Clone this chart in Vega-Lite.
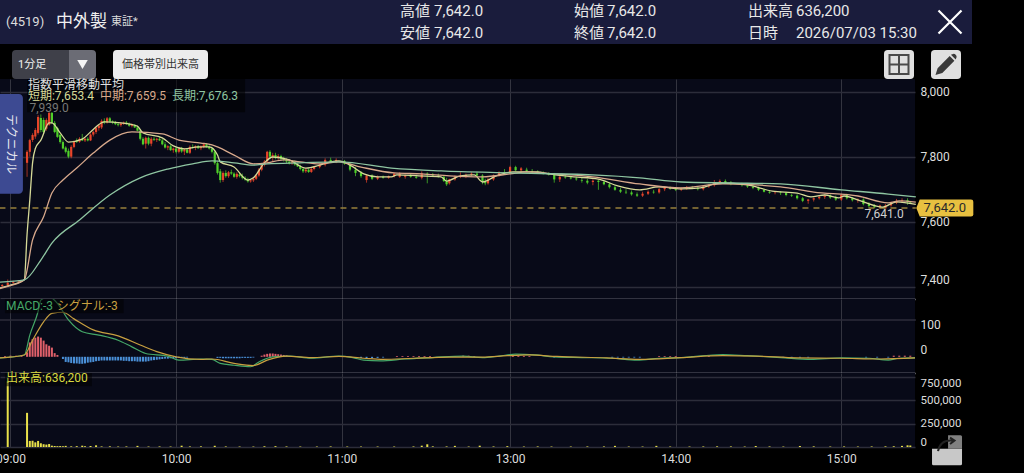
{
  "$schema": "https://vega.github.io/schema/vega-lite/v6.json",
  "description": "Intraday 1-minute chart of 4519 with EMA, MACD and volume panels",
  "padding": {"left": -5, "top": 0, "right": 5, "bottom": 8},
  "background": "#000000",
  "spacing": 0,
  "bounds": "flush",
  "resolve": {"scale": {"color": "independent"}},
  "datasets": {
    "banner": [
      {"col": 1, "row": 1.5, "kind": "code", "text": "(4519)"},
      {"col": 2, "row": 1.5, "kind": "name", "text": "中外製"},
      {"col": 3, "row": 1.5, "kind": "market", "text": "東証*"},
      {"col": 4, "row": 1, "kind": "field", "text": "高値"},
      {"col": 5, "row": 1, "kind": "field", "text": "7,642.0"},
      {"col": 4, "row": 2, "kind": "field", "text": "安値"},
      {"col": 5, "row": 2, "kind": "field", "text": "7,642.0"},
      {"col": 6, "row": 1, "kind": "field", "text": "始値"},
      {"col": 7, "row": 1, "kind": "field", "text": "7,642.0"},
      {"col": 6, "row": 2, "kind": "field", "text": "終値"},
      {"col": 7, "row": 2, "kind": "field", "text": "7,642.0"},
      {"col": 8, "row": 1, "kind": "field", "text": "出来高"},
      {"col": 9, "row": 1, "kind": "field", "text": "636,200"},
      {"col": 8, "row": 2, "kind": "field", "text": "日時"},
      {"col": 9, "row": 2, "kind": "field", "text": "2026/07/03 15:30"},
      {"col": 10, "row": 1.5, "kind": "close", "text": ""}
    ],
    "toolbar": [
      {"col": 1, "item": "label", "text": "1分足"},
      {"col": 2, "item": "left", "text": ""},
      {"col": 3, "item": "right", "text": ""},
      {"col": 4, "item": "wide", "text": "価格帯別出来高"},
      {"col": 5, "item": "grid", "text": ""},
      {"col": 6, "item": "pencil", "text": ""}
    ],
    "candles": [
      {"bar": -3, "o": 7402, "h": 7408, "l": 7398, "c": 7405},
      {"bar": -1, "o": 7405, "h": 7422, "l": 7402, "c": 7412},
      {"bar": 1, "o": 7412, "h": 7418, "l": 7408, "c": 7415},
      {"bar": 3, "o": 7415, "h": 7420, "l": 7411, "c": 7418},
      {"bar": 6, "o": 7781, "h": 7820, "l": 7738, "c": 7815},
      {"bar": 7, "o": 7815, "h": 7855, "l": 7800, "c": 7851},
      {"bar": 8, "o": 7851, "h": 7872, "l": 7845, "c": 7867},
      {"bar": 9, "o": 7862, "h": 7888, "l": 7855, "c": 7882},
      {"bar": 10, "o": 7873, "h": 7928, "l": 7868, "c": 7922},
      {"bar": 11, "o": 7919, "h": 7930, "l": 7875, "c": 7882},
      {"bar": 12, "o": 7913, "h": 7920, "l": 7870, "c": 7876},
      {"bar": 13, "o": 7886, "h": 7918, "l": 7880, "c": 7913},
      {"bar": 14, "o": 7898, "h": 7939, "l": 7895, "c": 7935},
      {"bar": 15, "o": 7935, "h": 7938, "l": 7900, "c": 7904},
      {"bar": 16, "o": 7904, "h": 7910, "l": 7872, "c": 7876},
      {"bar": 17, "o": 7888, "h": 7892, "l": 7858, "c": 7861},
      {"bar": 18, "o": 7867, "h": 7870, "l": 7840, "c": 7845},
      {"bar": 19, "o": 7845, "h": 7850, "l": 7822, "c": 7825},
      {"bar": 20, "o": 7828, "h": 7832, "l": 7810, "c": 7815},
      {"bar": 21, "o": 7818, "h": 7825, "l": 7795, "c": 7800},
      {"bar": 22, "o": 7800, "h": 7835, "l": 7795, "c": 7830},
      {"bar": 23, "o": 7830, "h": 7850, "l": 7826, "c": 7845},
      {"bar": 24, "o": 7850, "h": 7856, "l": 7842, "c": 7846},
      {"bar": 25, "o": 7846, "h": 7860, "l": 7843, "c": 7855},
      {"bar": 26, "o": 7855, "h": 7870, "l": 7848, "c": 7850},
      {"bar": 27, "o": 7850, "h": 7858, "l": 7845, "c": 7855},
      {"bar": 28, "o": 7855, "h": 7860, "l": 7847, "c": 7850},
      {"bar": 29, "o": 7850, "h": 7872, "l": 7848, "c": 7868},
      {"bar": 30, "o": 7868, "h": 7880, "l": 7862, "c": 7876},
      {"bar": 31, "o": 7876, "h": 7892, "l": 7870, "c": 7888},
      {"bar": 32, "o": 7888, "h": 7900, "l": 7880, "c": 7896},
      {"bar": 33, "o": 7890, "h": 7915, "l": 7885, "c": 7910},
      {"bar": 34, "o": 7910, "h": 7918, "l": 7900, "c": 7905},
      {"bar": 35, "o": 7905, "h": 7922, "l": 7902, "c": 7918},
      {"bar": 36, "o": 7918, "h": 7922, "l": 7905, "c": 7908},
      {"bar": 37, "o": 7908, "h": 7912, "l": 7900, "c": 7905},
      {"bar": 38, "o": 7905, "h": 7910, "l": 7897, "c": 7900},
      {"bar": 39, "o": 7900, "h": 7905, "l": 7893, "c": 7897},
      {"bar": 40, "o": 7897, "h": 7905, "l": 7892, "c": 7902},
      {"bar": 41, "o": 7902, "h": 7908, "l": 7898, "c": 7905},
      {"bar": 42, "o": 7905, "h": 7910, "l": 7898, "c": 7900},
      {"bar": 43, "o": 7900, "h": 7905, "l": 7892, "c": 7895},
      {"bar": 44, "o": 7895, "h": 7902, "l": 7890, "c": 7898},
      {"bar": 45, "o": 7898, "h": 7900, "l": 7888, "c": 7890},
      {"bar": 46, "o": 7890, "h": 7895, "l": 7878, "c": 7880},
      {"bar": 47, "o": 7880, "h": 7884, "l": 7850, "c": 7855},
      {"bar": 48, "o": 7855, "h": 7860, "l": 7835, "c": 7838},
      {"bar": 49, "o": 7840, "h": 7862, "l": 7825, "c": 7858},
      {"bar": 50, "o": 7858, "h": 7862, "l": 7835, "c": 7840},
      {"bar": 51, "o": 7840, "h": 7860, "l": 7832, "c": 7855},
      {"bar": 52, "o": 7855, "h": 7860, "l": 7848, "c": 7852},
      {"bar": 53, "o": 7852, "h": 7858, "l": 7845, "c": 7855},
      {"bar": 54, "o": 7855, "h": 7860, "l": 7848, "c": 7850},
      {"bar": 55, "o": 7850, "h": 7855, "l": 7835, "c": 7838},
      {"bar": 56, "o": 7838, "h": 7845, "l": 7825, "c": 7828},
      {"bar": 57, "o": 7828, "h": 7835, "l": 7820, "c": 7832},
      {"bar": 58, "o": 7832, "h": 7836, "l": 7818, "c": 7820},
      {"bar": 59, "o": 7820, "h": 7828, "l": 7812, "c": 7825},
      {"bar": 60, "o": 7825, "h": 7830, "l": 7810, "c": 7815},
      {"bar": 61, "o": 7815, "h": 7830, "l": 7810, "c": 7825},
      {"bar": 62, "o": 7825, "h": 7830, "l": 7812, "c": 7816},
      {"bar": 63, "o": 7816, "h": 7826, "l": 7805, "c": 7822},
      {"bar": 64, "o": 7822, "h": 7826, "l": 7810, "c": 7812},
      {"bar": 65, "o": 7812, "h": 7835, "l": 7808, "c": 7830},
      {"bar": 66, "o": 7830, "h": 7838, "l": 7825, "c": 7828},
      {"bar": 67, "o": 7828, "h": 7835, "l": 7820, "c": 7832},
      {"bar": 68, "o": 7832, "h": 7836, "l": 7824, "c": 7826},
      {"bar": 69, "o": 7826, "h": 7835, "l": 7820, "c": 7830},
      {"bar": 70, "o": 7830, "h": 7842, "l": 7826, "c": 7838},
      {"bar": 71, "o": 7838, "h": 7842, "l": 7828, "c": 7830},
      {"bar": 72, "o": 7830, "h": 7835, "l": 7822, "c": 7825},
      {"bar": 73, "o": 7825, "h": 7830, "l": 7810, "c": 7815},
      {"bar": 74, "o": 7815, "h": 7820, "l": 7775, "c": 7780},
      {"bar": 75, "o": 7780, "h": 7785, "l": 7745, "c": 7750},
      {"bar": 76, "o": 7755, "h": 7762, "l": 7720, "c": 7728},
      {"bar": 77, "o": 7728, "h": 7755, "l": 7722, "c": 7750},
      {"bar": 78, "o": 7750, "h": 7758, "l": 7735, "c": 7740},
      {"bar": 79, "o": 7740, "h": 7756, "l": 7735, "c": 7752},
      {"bar": 80, "o": 7752, "h": 7760, "l": 7744, "c": 7748},
      {"bar": 81, "o": 7748, "h": 7752, "l": 7735, "c": 7738},
      {"bar": 82, "o": 7738, "h": 7752, "l": 7732, "c": 7747},
      {"bar": 83, "o": 7745, "h": 7752, "l": 7736, "c": 7740},
      {"bar": 84, "o": 7740, "h": 7748, "l": 7730, "c": 7735},
      {"bar": 85, "o": 7735, "h": 7740, "l": 7726, "c": 7730},
      {"bar": 86, "o": 7730, "h": 7735, "l": 7720, "c": 7724},
      {"bar": 87, "o": 7724, "h": 7730, "l": 7720, "c": 7727},
      {"bar": 88, "o": 7727, "h": 7735, "l": 7722, "c": 7732},
      {"bar": 89, "o": 7732, "h": 7745, "l": 7728, "c": 7742},
      {"bar": 90, "o": 7742, "h": 7765, "l": 7738, "c": 7760},
      {"bar": 91, "o": 7760, "h": 7780, "l": 7755, "c": 7775},
      {"bar": 92, "o": 7775, "h": 7790, "l": 7770, "c": 7785},
      {"bar": 93, "o": 7785, "h": 7818, "l": 7780, "c": 7815},
      {"bar": 94, "o": 7815, "h": 7820, "l": 7795, "c": 7800},
      {"bar": 95, "o": 7800, "h": 7812, "l": 7785, "c": 7805},
      {"bar": 96, "o": 7805, "h": 7812, "l": 7792, "c": 7798},
      {"bar": 97, "o": 7798, "h": 7808, "l": 7790, "c": 7802},
      {"bar": 98, "o": 7802, "h": 7806, "l": 7790, "c": 7793},
      {"bar": 99, "o": 7793, "h": 7800, "l": 7785, "c": 7790},
      {"bar": 100, "o": 7790, "h": 7795, "l": 7780, "c": 7785},
      {"bar": 101, "o": 7785, "h": 7792, "l": 7776, "c": 7780},
      {"bar": 102, "o": 7780, "h": 7786, "l": 7775, "c": 7783},
      {"bar": 103, "o": 7783, "h": 7788, "l": 7772, "c": 7776},
      {"bar": 104, "o": 7776, "h": 7780, "l": 7768, "c": 7770},
      {"bar": 105, "o": 7770, "h": 7775, "l": 7758, "c": 7762},
      {"bar": 106, "o": 7762, "h": 7768, "l": 7750, "c": 7755},
      {"bar": 107, "o": 7755, "h": 7765, "l": 7750, "c": 7760},
      {"bar": 108, "o": 7760, "h": 7764, "l": 7750, "c": 7753},
      {"bar": 109, "o": 7753, "h": 7768, "l": 7750, "c": 7762},
      {"bar": 110, "o": 7762, "h": 7770, "l": 7758, "c": 7768},
      {"bar": 112, "o": 7768, "h": 7778, "l": 7764, "c": 7775},
      {"bar": 114, "o": 7775, "h": 7795, "l": 7770, "c": 7790},
      {"bar": 116, "o": 7790, "h": 7797, "l": 7782, "c": 7785},
      {"bar": 118, "o": 7785, "h": 7795, "l": 7780, "c": 7790},
      {"bar": 121, "o": 7787, "h": 7790, "l": 7775, "c": 7778},
      {"bar": 123, "o": 7778, "h": 7782, "l": 7755, "c": 7760},
      {"bar": 125, "o": 7760, "h": 7768, "l": 7740, "c": 7750},
      {"bar": 127, "o": 7750, "h": 7756, "l": 7735, "c": 7740},
      {"bar": 129, "o": 7728, "h": 7745, "l": 7720, "c": 7742},
      {"bar": 131, "o": 7742, "h": 7746, "l": 7728, "c": 7732},
      {"bar": 133, "o": 7732, "h": 7742, "l": 7728, "c": 7738},
      {"bar": 135, "o": 7738, "h": 7742, "l": 7732, "c": 7735},
      {"bar": 137, "o": 7735, "h": 7742, "l": 7732, "c": 7740},
      {"bar": 139, "o": 7740, "h": 7750, "l": 7736, "c": 7748},
      {"bar": 141, "o": 7738, "h": 7752, "l": 7735, "c": 7748},
      {"bar": 143, "o": 7738, "h": 7745, "l": 7732, "c": 7742},
      {"bar": 145, "o": 7742, "h": 7748, "l": 7735, "c": 7738},
      {"bar": 147, "o": 7738, "h": 7744, "l": 7732, "c": 7735},
      {"bar": 149, "o": 7735, "h": 7755, "l": 7730, "c": 7748},
      {"bar": 151, "o": 7748, "h": 7752, "l": 7718, "c": 7745},
      {"bar": 153, "o": 7745, "h": 7750, "l": 7738, "c": 7742},
      {"bar": 155, "o": 7742, "h": 7748, "l": 7735, "c": 7738},
      {"bar": 157, "o": 7738, "h": 7742, "l": 7722, "c": 7725},
      {"bar": 158, "o": 7725, "h": 7735, "l": 7710, "c": 7715},
      {"bar": 159, "o": 7718, "h": 7732, "l": 7714, "c": 7730},
      {"bar": 161, "o": 7730, "h": 7742, "l": 7726, "c": 7738},
      {"bar": 163, "o": 7738, "h": 7752, "l": 7734, "c": 7740},
      {"bar": 165, "o": 7740, "h": 7748, "l": 7734, "c": 7744},
      {"bar": 167, "o": 7744, "h": 7752, "l": 7740, "c": 7748},
      {"bar": 169, "o": 7748, "h": 7754, "l": 7738, "c": 7742},
      {"bar": 171, "o": 7742, "h": 7746, "l": 7715, "c": 7722},
      {"bar": 172, "o": 7722, "h": 7732, "l": 7712, "c": 7718},
      {"bar": 173, "o": 7718, "h": 7735, "l": 7714, "c": 7730},
      {"bar": 175, "o": 7730, "h": 7745, "l": 7726, "c": 7742},
      {"bar": 177, "o": 7742, "h": 7755, "l": 7738, "c": 7752},
      {"bar": 179, "o": 7752, "h": 7762, "l": 7745, "c": 7750},
      {"bar": 181, "o": 7750, "h": 7772, "l": 7746, "c": 7768},
      {"bar": 183, "o": 7768, "h": 7772, "l": 7755, "c": 7758},
      {"bar": 185, "o": 7758, "h": 7768, "l": 7752, "c": 7764},
      {"bar": 187, "o": 7760, "h": 7766, "l": 7752, "c": 7756},
      {"bar": 189, "o": 7756, "h": 7762, "l": 7750, "c": 7754},
      {"bar": 191, "o": 7754, "h": 7758, "l": 7748, "c": 7750},
      {"bar": 193, "o": 7750, "h": 7755, "l": 7745, "c": 7748},
      {"bar": 195, "o": 7748, "h": 7752, "l": 7742, "c": 7745},
      {"bar": 197, "o": 7745, "h": 7750, "l": 7720, "c": 7730},
      {"bar": 199, "o": 7730, "h": 7742, "l": 7722, "c": 7738},
      {"bar": 201, "o": 7738, "h": 7744, "l": 7732, "c": 7736},
      {"bar": 203, "o": 7736, "h": 7740, "l": 7730, "c": 7733},
      {"bar": 205, "o": 7733, "h": 7738, "l": 7726, "c": 7730},
      {"bar": 207, "o": 7728, "h": 7735, "l": 7720, "c": 7726},
      {"bar": 209, "o": 7726, "h": 7732, "l": 7715, "c": 7720},
      {"bar": 211, "o": 7722, "h": 7730, "l": 7712, "c": 7726},
      {"bar": 213, "o": 7726, "h": 7730, "l": 7698, "c": 7722},
      {"bar": 215, "o": 7722, "h": 7726, "l": 7712, "c": 7715},
      {"bar": 217, "o": 7715, "h": 7720, "l": 7702, "c": 7706},
      {"bar": 219, "o": 7706, "h": 7712, "l": 7695, "c": 7698},
      {"bar": 221, "o": 7698, "h": 7704, "l": 7688, "c": 7692},
      {"bar": 223, "o": 7692, "h": 7700, "l": 7685, "c": 7690},
      {"bar": 225, "o": 7690, "h": 7696, "l": 7680, "c": 7684},
      {"bar": 227, "o": 7684, "h": 7690, "l": 7676, "c": 7680},
      {"bar": 229, "o": 7680, "h": 7692, "l": 7676, "c": 7686},
      {"bar": 231, "o": 7686, "h": 7696, "l": 7682, "c": 7692},
      {"bar": 233, "o": 7692, "h": 7698, "l": 7686, "c": 7690},
      {"bar": 235, "o": 7690, "h": 7704, "l": 7686, "c": 7700},
      {"bar": 237, "o": 7700, "h": 7708, "l": 7694, "c": 7704},
      {"bar": 239, "o": 7704, "h": 7708, "l": 7698, "c": 7701},
      {"bar": 241, "o": 7701, "h": 7706, "l": 7694, "c": 7698},
      {"bar": 243, "o": 7698, "h": 7706, "l": 7694, "c": 7702},
      {"bar": 245, "o": 7702, "h": 7710, "l": 7698, "c": 7706},
      {"bar": 247, "o": 7706, "h": 7710, "l": 7700, "c": 7703},
      {"bar": 249, "o": 7703, "h": 7708, "l": 7696, "c": 7700},
      {"bar": 251, "o": 7700, "h": 7712, "l": 7696, "c": 7708},
      {"bar": 253, "o": 7708, "h": 7716, "l": 7704, "c": 7712},
      {"bar": 255, "o": 7712, "h": 7728, "l": 7708, "c": 7722},
      {"bar": 257, "o": 7722, "h": 7730, "l": 7716, "c": 7725},
      {"bar": 259, "o": 7725, "h": 7730, "l": 7716, "c": 7720},
      {"bar": 261, "o": 7720, "h": 7725, "l": 7712, "c": 7716},
      {"bar": 265, "o": 7716, "h": 7720, "l": 7708, "c": 7712},
      {"bar": 267, "o": 7712, "h": 7716, "l": 7704, "c": 7708},
      {"bar": 269, "o": 7708, "h": 7712, "l": 7700, "c": 7704},
      {"bar": 271, "o": 7704, "h": 7708, "l": 7694, "c": 7698},
      {"bar": 273, "o": 7698, "h": 7702, "l": 7690, "c": 7692},
      {"bar": 275, "o": 7692, "h": 7696, "l": 7686, "c": 7689},
      {"bar": 277, "o": 7689, "h": 7694, "l": 7684, "c": 7690},
      {"bar": 279, "o": 7690, "h": 7694, "l": 7682, "c": 7688},
      {"bar": 281, "o": 7688, "h": 7692, "l": 7678, "c": 7682},
      {"bar": 283, "o": 7682, "h": 7686, "l": 7676, "c": 7680},
      {"bar": 285, "o": 7680, "h": 7684, "l": 7668, "c": 7672},
      {"bar": 287, "o": 7672, "h": 7676, "l": 7660, "c": 7664},
      {"bar": 289, "o": 7664, "h": 7670, "l": 7655, "c": 7668},
      {"bar": 291, "o": 7668, "h": 7674, "l": 7662, "c": 7672},
      {"bar": 293, "o": 7672, "h": 7680, "l": 7668, "c": 7676},
      {"bar": 295, "o": 7676, "h": 7684, "l": 7670, "c": 7680},
      {"bar": 297, "o": 7680, "h": 7684, "l": 7670, "c": 7674},
      {"bar": 299, "o": 7674, "h": 7680, "l": 7664, "c": 7668},
      {"bar": 301, "o": 7668, "h": 7686, "l": 7664, "c": 7682},
      {"bar": 303, "o": 7682, "h": 7686, "l": 7668, "c": 7672},
      {"bar": 305, "o": 7672, "h": 7676, "l": 7662, "c": 7666},
      {"bar": 307, "o": 7666, "h": 7672, "l": 7658, "c": 7668},
      {"bar": 309, "o": 7668, "h": 7672, "l": 7650, "c": 7654},
      {"bar": 311, "o": 7654, "h": 7660, "l": 7644, "c": 7648},
      {"bar": 313, "o": 7648, "h": 7654, "l": 7642, "c": 7644},
      {"bar": 315, "o": 7644, "h": 7652, "l": 7641, "c": 7650},
      {"bar": 317, "o": 7641, "h": 7654, "l": 7641, "c": 7650},
      {"bar": 319, "o": 7650, "h": 7662, "l": 7646, "c": 7658},
      {"bar": 321, "o": 7658, "h": 7670, "l": 7654, "c": 7664},
      {"bar": 323, "o": 7664, "h": 7672, "l": 7660, "c": 7666},
      {"bar": 325, "o": 7666, "h": 7672, "l": 7652, "c": 7660},
      {"bar": 326, "o": 7660, "h": 7664, "l": 7656, "c": 7658}
    ],
    "ema": [
      {"bar": -4, "line": "短期", "price": 7396}, {"bar": 0, "line": "短期", "price": 7405}, {"bar": 5, "line": "短期", "price": 7421},
      {"bar": 6, "line": "短期", "price": 7560}, {"bar": 7, "line": "短期", "price": 7667}, {"bar": 8, "line": "短期", "price": 7781}, {"bar": 9, "line": "短期", "price": 7825}, {"bar": 11, "line": "短期", "price": 7851}, {"bar": 14, "line": "短期", "price": 7904}, {"bar": 15, "line": "短期", "price": 7904}, {"bar": 18, "line": "短期", "price": 7873}, {"bar": 21, "line": "短期", "price": 7845}, {"bar": 26, "line": "短期", "price": 7854}, {"bar": 29, "line": "短期", "price": 7876}, {"bar": 34, "line": "短期", "price": 7907}, {"bar": 40, "line": "短期", "price": 7904}, {"bar": 46, "line": "短期", "price": 7894}, {"bar": 48, "line": "短期", "price": 7873}, {"bar": 55, "line": "短期", "price": 7858}, {"bar": 59, "line": "短期", "price": 7833}, {"bar": 63, "line": "短期", "price": 7824}, {"bar": 68, "line": "短期", "price": 7830}, {"bar": 72, "line": "短期", "price": 7830}, {"bar": 75, "line": "短期", "price": 7805}, {"bar": 76, "line": "短期", "price": 7784}, {"bar": 81, "line": "短期", "price": 7768}, {"bar": 86, "line": "短期", "price": 7728}, {"bar": 88, "line": "短期", "price": 7735}, {"bar": 92, "line": "短期", "price": 7781}, {"bar": 95, "line": "短期", "price": 7799}, {"bar": 101, "line": "短期", "price": 7790}, {"bar": 107, "line": "短期", "price": 7765}, {"bar": 112, "line": "短期", "price": 7774}, {"bar": 116, "line": "短期", "price": 7784}, {"bar": 119, "line": "短期", "price": 7787},
      {"bar": 123, "line": "短期", "price": 7774}, {"bar": 128, "line": "短期", "price": 7747}, {"bar": 133, "line": "短期", "price": 7738}, {"bar": 138, "line": "短期", "price": 7738}, {"bar": 140, "line": "短期", "price": 7744}, {"bar": 148, "line": "短期", "price": 7741}, {"bar": 156, "line": "短期", "price": 7738}, {"bar": 158, "line": "短期", "price": 7725}, {"bar": 163, "line": "短期", "price": 7741}, {"bar": 168, "line": "短期", "price": 7744}, {"bar": 171, "line": "短期", "price": 7722}, {"bar": 176, "line": "短期", "price": 7741}, {"bar": 182, "line": "短期", "price": 7753}, {"bar": 191, "line": "短期", "price": 7753}, {"bar": 195, "line": "短期", "price": 7747}, {"bar": 204, "line": "短期", "price": 7738}, {"bar": 213, "line": "短期", "price": 7731}, {"bar": 220, "line": "短期", "price": 7710}, {"bar": 228, "line": "短期", "price": 7698}, {"bar": 235, "line": "短期", "price": 7707}, {"bar": 243, "line": "短期", "price": 7701},
      {"bar": 250, "line": "短期", "price": 7704}, {"bar": 257, "line": "短期", "price": 7719}, {"bar": 267, "line": "短期", "price": 7713}, {"bar": 276, "line": "短期", "price": 7694}, {"bar": 285, "line": "短期", "price": 7688}, {"bar": 290, "line": "短期", "price": 7676}, {"bar": 295, "line": "短期", "price": 7682}, {"bar": 300, "line": "短期", "price": 7673}, {"bar": 302, "line": "短期", "price": 7679}, {"bar": 308, "line": "短期", "price": 7664}, {"bar": 316, "line": "短期", "price": 7645}, {"bar": 321, "line": "短期", "price": 7661}, {"bar": 328, "line": "短期", "price": 7653},
      {"bar": -4, "line": "中期", "price": 7394}, {"bar": 0, "line": "中期", "price": 7403}, {"bar": 5, "line": "中期", "price": 7421}, {"bar": 8, "line": "中期", "price": 7544}, {"bar": 12, "line": "中期", "price": 7615}, {"bar": 15, "line": "中期", "price": 7688}, {"bar": 19, "line": "中期", "price": 7728}, {"bar": 24, "line": "中期", "price": 7765}, {"bar": 30, "line": "中期", "price": 7811}, {"bar": 36, "line": "中期", "price": 7851}, {"bar": 44, "line": "中期", "price": 7876}, {"bar": 55, "line": "中期", "price": 7870}, {"bar": 61, "line": "中期", "price": 7851}, {"bar": 69, "line": "中期", "price": 7842}, {"bar": 73, "line": "中期", "price": 7836}, {"bar": 81, "line": "中期", "price": 7805}, {"bar": 88, "line": "中期", "price": 7778}, {"bar": 93, "line": "中期", "price": 7781}, {"bar": 99, "line": "中期", "price": 7790}, {"bar": 105, "line": "中期", "price": 7784}, {"bar": 112, "line": "中期", "price": 7778}, {"bar": 119, "line": "中期", "price": 7784},
      {"bar": 127, "line": "中期", "price": 7768}, {"bar": 139, "line": "中期", "price": 7750}, {"bar": 149, "line": "中期", "price": 7747}, {"bar": 159, "line": "中期", "price": 7741}, {"bar": 171, "line": "中期", "price": 7738}, {"bar": 181, "line": "中期", "price": 7747}, {"bar": 187, "line": "中期", "price": 7753}, {"bar": 197, "line": "中期", "price": 7747}, {"bar": 211, "line": "中期", "price": 7738}, {"bar": 228, "line": "中期", "price": 7716}, {"bar": 243, "line": "中期", "price": 7704},
      {"bar": 258, "line": "中期", "price": 7716}, {"bar": 279, "line": "中期", "price": 7707}, {"bar": 291, "line": "中期", "price": 7691}, {"bar": 307, "line": "中期", "price": 7679}, {"bar": 318, "line": "中期", "price": 7658}, {"bar": 322, "line": "中期", "price": 7664}, {"bar": 328, "line": "中期", "price": 7660},
      {"bar": -4, "line": "長期", "price": 7414}, {"bar": 5, "line": "長期", "price": 7421}, {"bar": 11, "line": "長期", "price": 7482}, {"bar": 15, "line": "長期", "price": 7534}, {"bar": 25, "line": "長期", "price": 7605}, {"bar": 36, "line": "長期", "price": 7682}, {"bar": 47, "line": "長期", "price": 7735}, {"bar": 57, "line": "長期", "price": 7762}, {"bar": 66, "line": "長期", "price": 7778}, {"bar": 73, "line": "長期", "price": 7787}, {"bar": 81, "line": "長期", "price": 7781}, {"bar": 88, "line": "長期", "price": 7774}, {"bar": 93, "line": "長期", "price": 7778}, {"bar": 105, "line": "長期", "price": 7781}, {"bar": 119, "line": "長期", "price": 7784},
      {"bar": 138, "line": "長期", "price": 7765}, {"bar": 156, "line": "長期", "price": 7756}, {"bar": 181, "line": "長期", "price": 7750}, {"bar": 211, "line": "長期", "price": 7744}, {"bar": 228, "line": "長期", "price": 7735}, {"bar": 243, "line": "長期", "price": 7722},
      {"bar": 261, "line": "長期", "price": 7719}, {"bar": 279, "line": "長期", "price": 7716}, {"bar": 301, "line": "長期", "price": 7698}, {"bar": 318, "line": "長期", "price": 7685}, {"bar": 328, "line": "長期", "price": 7676}
    ],
    "closeLine": [
      {"bar": -4, "price": 7642},
      {"bar": 328, "price": 7642}
    ],
    "priceBox": [{"bar": 6, "bar2": 85, "price": 8039, "price2": 7937}],
    "priceLegend": [
      {"bar": 6.3, "price": 8020, "line": "題", "text": "指数平滑移動平均"},
      {"bar": 6.3, "price": 7987, "line": "短期", "text": "短期:7,653.4"},
      {"bar": 32.4, "price": 7987, "line": "中期", "text": "中期:7,659.5"},
      {"bar": 58.5, "price": 7987, "line": "長期", "text": "長期:7,676.3"}
    ],
    "tab": [{"bar": -4, "bar2": 4.5, "price": 7993, "price2": 7686}],
    "tabText": [{"bar": 0.3, "price": 7839, "text": "テクニカル"}],
    "highLabel": [{"bar": 14, "price": 7939, "text": "7,939.0"}],
    "lowLabel": [{"bar": 316.5, "price": 7641, "text": "7,641.0"}],
    "tag": [{"bar": 338.5, "price": 7642, "text": "7,642.0"}],
    "macd": [
      {"bar": -4, "line": "MACD", "value": -3}, {"bar": 5, "line": "MACD", "value": 5}, {"bar": 7, "line": "MACD", "value": 59}, {"bar": 10, "line": "MACD", "value": 123}, {"bar": 11, "line": "MACD", "value": 154}, {"bar": 14, "line": "MACD", "value": 163}, {"bar": 17, "line": "MACD", "value": 145}, {"bar": 21, "line": "MACD", "value": 100}, {"bar": 26, "line": "MACD", "value": 68}, {"bar": 32, "line": "MACD", "value": 59}, {"bar": 39, "line": "MACD", "value": 45}, {"bar": 44, "line": "MACD", "value": 27}, {"bar": 49, "line": "MACD", "value": 9}, {"bar": 57, "line": "MACD", "value": 2}, {"bar": 61, "line": "MACD", "value": -9}, {"bar": 69, "line": "MACD", "value": -6}, {"bar": 73, "line": "MACD", "value": -7}, {"bar": 76, "line": "MACD", "value": -18}, {"bar": 81, "line": "MACD", "value": -23}, {"bar": 87, "line": "MACD", "value": -27}, {"bar": 90, "line": "MACD", "value": -14}, {"bar": 95, "line": "MACD", "value": 0}, {"bar": 101, "line": "MACD", "value": 2}, {"bar": 109, "line": "MACD", "value": -4}, {"bar": 119, "line": "MACD", "value": 2},
      {"bar": 124, "line": "MACD", "value": -2}, {"bar": 128, "line": "MACD", "value": -9}, {"bar": 134, "line": "MACD", "value": -11}, {"bar": 143, "line": "MACD", "value": -6}, {"bar": 153, "line": "MACD", "value": -2}, {"bar": 164, "line": "MACD", "value": 2}, {"bar": 171, "line": "MACD", "value": -2}, {"bar": 177, "line": "MACD", "value": 2}, {"bar": 183, "line": "MACD", "value": 7}, {"bar": 190, "line": "MACD", "value": 5}, {"bar": 197, "line": "MACD", "value": 0}, {"bar": 207, "line": "MACD", "value": -2}, {"bar": 218, "line": "MACD", "value": -4}, {"bar": 227, "line": "MACD", "value": -9}, {"bar": 235, "line": "MACD", "value": -4}, {"bar": 243, "line": "MACD", "value": -2}, {"bar": 258, "line": "MACD", "value": 6}, {"bar": 267, "line": "MACD", "value": 3}, {"bar": 279, "line": "MACD", "value": -2}, {"bar": 290, "line": "MACD", "value": -7}, {"bar": 301, "line": "MACD", "value": -3}, {"bar": 311, "line": "MACD", "value": -4}, {"bar": 318, "line": "MACD", "value": -9}, {"bar": 322, "line": "MACD", "value": -4}, {"bar": 328, "line": "MACD", "value": -3},
      {"bar": -4, "line": "シグナル", "value": -3}, {"bar": 5, "line": "シグナル", "value": 5}, {"bar": 8, "line": "シグナル", "value": 45}, {"bar": 12, "line": "シグナル", "value": 95}, {"bar": 15, "line": "シグナル", "value": 118}, {"bar": 19, "line": "シグナル", "value": 121}, {"bar": 23, "line": "シグナル", "value": 103}, {"bar": 30, "line": "シグナル", "value": 73}, {"bar": 39, "line": "シグナル", "value": 57}, {"bar": 47, "line": "シグナル", "value": 32}, {"bar": 53, "line": "シグナル", "value": 14}, {"bar": 60, "line": "シグナル", "value": 0}, {"bar": 69, "line": "シグナル", "value": -7}, {"bar": 73, "line": "シグナル", "value": -6}, {"bar": 81, "line": "シグナル", "value": -18}, {"bar": 88, "line": "シグナル", "value": -24}, {"bar": 93, "line": "シグナル", "value": -9}, {"bar": 100, "line": "シグナル", "value": 2}, {"bar": 109, "line": "シグナル", "value": -2}, {"bar": 119, "line": "シグナル", "value": 1},
      {"bar": 128, "line": "シグナル", "value": -4}, {"bar": 135, "line": "シグナル", "value": -7}, {"bar": 146, "line": "シグナル", "value": -4}, {"bar": 159, "line": "シグナル", "value": -1}, {"bar": 171, "line": "シグナル", "value": -1}, {"bar": 180, "line": "シグナル", "value": 3}, {"bar": 188, "line": "シグナル", "value": 5}, {"bar": 198, "line": "シグナル", "value": 1}, {"bar": 216, "line": "シグナル", "value": -3}, {"bar": 228, "line": "シグナル", "value": -7}, {"bar": 243, "line": "シグナル", "value": -2}, {"bar": 258, "line": "シグナル", "value": 3}, {"bar": 270, "line": "シグナル", "value": 2}, {"bar": 285, "line": "シグナル", "value": -3}, {"bar": 301, "line": "シグナル", "value": -4}, {"bar": 315, "line": "シグナル", "value": -6}, {"bar": 328, "line": "シグナル", "value": -3}
    ],
    "hist": [
      {"bar": -2, "value": 2}, {"bar": 0, "value": 3}, {"bar": 2, "value": 3}, {"bar": 4, "value": 3},
      {"bar": 6, "value": 12}, {"bar": 7, "value": 39}, {"bar": 8, "value": 48}, {"bar": 9, "value": 52}, {"bar": 10, "value": 55}, {"bar": 11, "value": 52}, {"bar": 12, "value": 44}, {"bar": 13, "value": 34}, {"bar": 14, "value": 30}, {"bar": 15, "value": 25}, {"bar": 16, "value": 10}, {"bar": 17, "value": 5},
      {"bar": 19, "value": -6}, {"bar": 20, "value": -14}, {"bar": 21, "value": -15}, {"bar": 22, "value": -17}, {"bar": 23, "value": -18}, {"bar": 24, "value": -18}, {"bar": 25, "value": -19}, {"bar": 26, "value": -19}, {"bar": 27, "value": -18}, {"bar": 28, "value": -16}, {"bar": 29, "value": -15}, {"bar": 30, "value": -14}, {"bar": 31, "value": -12}, {"bar": 32, "value": -11}, {"bar": 33, "value": -10}, {"bar": 34, "value": -10}, {"bar": 35, "value": -10}, {"bar": 36, "value": -10}, {"bar": 37, "value": -10}, {"bar": 38, "value": -10}, {"bar": 39, "value": -10}, {"bar": 40, "value": -10}, {"bar": 41, "value": -11}, {"bar": 42, "value": -11}, {"bar": 43, "value": -12}, {"bar": 44, "value": -12}, {"bar": 45, "value": -12}, {"bar": 46, "value": -13}, {"bar": 47, "value": -13}, {"bar": 48, "value": -13}, {"bar": 49, "value": -13}, {"bar": 50, "value": -12}, {"bar": 51, "value": -10}, {"bar": 52, "value": -9}, {"bar": 53, "value": -8}, {"bar": 54, "value": -7}, {"bar": 55, "value": -6}, {"bar": 56, "value": -5}, {"bar": 57, "value": -5}, {"bar": 58, "value": -4}, {"bar": 59, "value": -4}, {"bar": 60, "value": -4}, {"bar": 61, "value": -3}, {"bar": 62, "value": -3}, {"bar": 63, "value": -3}, {"bar": 64, "value": -2},
      {"bar": 75, "value": -3}, {"bar": 76, "value": -3}, {"bar": 77, "value": -4}, {"bar": 78, "value": -4}, {"bar": 79, "value": -4}, {"bar": 80, "value": -4}, {"bar": 81, "value": -4}, {"bar": 82, "value": -4}, {"bar": 83, "value": -4}, {"bar": 84, "value": -3}, {"bar": 85, "value": -3}, {"bar": 86, "value": -3}, {"bar": 87, "value": -3}, {"bar": 88, "value": -2},
      {"bar": 91, "value": 3}, {"bar": 92, "value": 6}, {"bar": 93, "value": 8}, {"bar": 94, "value": 9}, {"bar": 95, "value": 9}, {"bar": 96, "value": 8}, {"bar": 97, "value": 7}, {"bar": 98, "value": 6}, {"bar": 99, "value": 5}, {"bar": 100, "value": 4}, {"bar": 101, "value": 2},
      {"bar": 127, "value": -3}, {"bar": 129, "value": -4}, {"bar": 131, "value": -4}, {"bar": 133, "value": -3}, {"bar": 135, "value": -2},
      {"bar": 140, "value": 2}, {"bar": 142, "value": 2}, {"bar": 144, "value": 2}, {"bar": 146, "value": 2}, {"bar": 148, "value": 2}, {"bar": 150, "value": 2}, {"bar": 152, "value": 2},
      {"bar": 164, "value": 3}, {"bar": 166, "value": 3}, {"bar": 168, "value": 2}, {"bar": 182, "value": 3}, {"bar": 184, "value": 3}, {"bar": 186, "value": 2}, {"bar": 188, "value": 2},
      {"bar": 197, "value": -2}, {"bar": 218, "value": -2}, {"bar": 220, "value": -2}, {"bar": 222, "value": -2}, {"bar": 224, "value": -2}, {"bar": 226, "value": -2}, {"bar": 228, "value": -2},
      {"bar": 235, "value": 2}, {"bar": 237, "value": 2}, {"bar": 239, "value": 2}, {"bar": 241, "value": 2}, {"bar": 247, "value": 2}, {"bar": 250, "value": 2}, {"bar": 253, "value": 2},
      {"bar": 280, "value": -2}, {"bar": 283, "value": -2}, {"bar": 286, "value": -2}, {"bar": 289, "value": -2}, {"bar": 310, "value": -2}, {"bar": 314, "value": -2}, {"bar": 318, "value": -2},
      {"bar": 320, "value": 3}, {"bar": 322, "value": 3}, {"bar": 324, "value": 3}, {"bar": 326, "value": 3}
    ],
    "macdGrid": [{"bar": -4, "value": 100}, {"bar": 328, "value": 100}],
    "macdBox": [{"bar": -2, "bar2": 41, "value": 157, "value2": 118}],
    "macdLegend": [
      {"bar": -1.6, "value": 139, "line": "MACD", "text": "MACD:-3"},
      {"bar": 16.8, "value": 139, "line": "シグナル", "text": "シグナル:-3"}
    ],
    "volume": [
      {"bar": -1, "vol": 703000}, {"bar": 6, "vol": 366000}, {"bar": 7, "vol": 65000}, {"bar": 8, "vol": 68000}, {"bar": 9, "vol": 50000}, {"bar": 10, "vol": 65000}, {"bar": 11, "vol": 40000}, {"bar": 12, "vol": 30000}, {"bar": 13, "vol": 26000}, {"bar": 14, "vol": 32000}, {"bar": 15, "vol": 14000}, {"bar": 16, "vol": 11000}, {"bar": 17, "vol": 9000}, {"bar": 18, "vol": 10000}, {"bar": 19, "vol": 8000}, {"bar": 20, "vol": 12000}, {"bar": 22, "vol": 7000}, {"bar": 24, "vol": 9000}, {"bar": 26, "vol": 14000}, {"bar": 27, "vol": 8000}, {"bar": 29, "vol": 11000}, {"bar": 31, "vol": 18000}, {"bar": 33, "vol": 6000}, {"bar": 36, "vol": 7000}, {"bar": 39, "vol": 5000}, {"bar": 42, "vol": 6000}, {"bar": 46, "vol": 12000}, {"bar": 50, "vol": 5000}, {"bar": 54, "vol": 6000}, {"bar": 58, "vol": 5000}, {"bar": 62, "vol": 14000}, {"bar": 65, "vol": 6000}, {"bar": 69, "vol": 7000}, {"bar": 74, "vol": 13000}, {"bar": 78, "vol": 6000}, {"bar": 83, "vol": 5000}, {"bar": 88, "vol": 5000}, {"bar": 92, "vol": 8000}, {"bar": 96, "vol": 9000}, {"bar": 100, "vol": 6000}, {"bar": 105, "vol": 5000}, {"bar": 111, "vol": 5000}, {"bar": 116, "vol": 6000},
      {"bar": 122, "vol": 5000}, {"bar": 127, "vol": 5000}, {"bar": 133, "vol": 5000}, {"bar": 139, "vol": 5000}, {"bar": 146, "vol": 6000}, {"bar": 149, "vol": 14000}, {"bar": 151, "vol": 29000}, {"bar": 153, "vol": 7000}, {"bar": 158, "vol": 6000}, {"bar": 161, "vol": 12000}, {"bar": 166, "vol": 5000}, {"bar": 170, "vol": 14000}, {"bar": 175, "vol": 6000}, {"bar": 180, "vol": 9000}, {"bar": 186, "vol": 5000}, {"bar": 191, "vol": 6000}, {"bar": 196, "vol": 5000}, {"bar": 203, "vol": 5000}, {"bar": 209, "vol": 6000}, {"bar": 215, "vol": 6000}, {"bar": 219, "vol": 12000}, {"bar": 224, "vol": 5000}, {"bar": 229, "vol": 5000}, {"bar": 234, "vol": 12000}, {"bar": 239, "vol": 5000},
      {"bar": 246, "vol": 5000}, {"bar": 251, "vol": 6000}, {"bar": 256, "vol": 7000}, {"bar": 261, "vol": 6000}, {"bar": 266, "vol": 5000}, {"bar": 270, "vol": 11000}, {"bar": 275, "vol": 6000}, {"bar": 280, "vol": 5000}, {"bar": 286, "vol": 11000}, {"bar": 291, "vol": 7000}, {"bar": 297, "vol": 5000}, {"bar": 302, "vol": 6000}, {"bar": 307, "vol": 5000}, {"bar": 312, "vol": 6000}, {"bar": 317, "vol": 7000}, {"bar": 320, "vol": 8000}, {"bar": 323, "vol": 12000}, {"bar": 325, "vol": 18000}, {"bar": 326, "vol": 16000}
    ],
    "volBox": [{"bar": -2, "bar2": 29.5, "vol": 793000, "vol2": 652000}],
    "volLegend": [{"bar": -1.6, "vol": 736000, "text": "出来高:636,200"}],
    "flip": [{"bar": 339.3, "vol": -36000}]
  },
  "vconcat": [
    {
      "width": 972,
      "height": 44,
      "view": {"fill": "#1a1c3c", "stroke": null},
      "data": {"name": "banner"},
      "encoding": {
        "x": {"field": "col", "type": "quantitative", "axis": null, "scale": {"domain": [1, 2, 3, 4, 5, 6, 7, 8, 9, 10], "range": [6, 56, 111, 400, 434, 574, 607, 748, 796, 950], "zero": false, "nice": false}},
        "y": {"field": "row", "type": "quantitative", "axis": null, "scale": {"domain": [1, 1.5, 2], "range": [11, 22, 33], "zero": false, "nice": false}},
        "text": {"field": "text"}
      },
      "layer": [
        {"transform": [{"filter": "datum.kind === 'code'"}], "mark": {"type": "text", "align": "left", "baseline": "middle", "fontSize": 13, "color": "#dcdcdc"}},
        {"transform": [{"filter": "datum.kind === 'name'"}], "mark": {"type": "text", "align": "left", "baseline": "middle", "fontSize": 17, "color": "#f0f0f0"}},
        {"transform": [{"filter": "datum.kind === 'market'"}], "mark": {"type": "text", "align": "left", "baseline": "middle", "fontSize": 11, "color": "#dcdcdc"}},
        {"transform": [{"filter": "datum.kind === 'field'"}], "mark": {"type": "text", "align": "left", "baseline": "middle", "fontSize": 15, "color": "#e8e8e8"}},
        {"transform": [{"filter": "datum.kind === 'close'"}], "mark": {"type": "point", "shape": "M-1,-1L1,1M-1,1L1,-1", "size": 529, "strokeWidth": 2.2, "color": "#ffffff", "opacity": 1, "filled": false}}
      ]
    },
    {
      "width": 1024,
      "height": 35,
      "data": {"name": "toolbar"},
      "view": {"stroke": null},
      "encoding": {
        "x": {"field": "col", "type": "quantitative", "axis": null, "scale": {"domain": [1, 2, 3, 4, 5, 6], "range": [18, 40.5, 82.5, 160.5, 899, 946], "zero": false, "nice": false}},
        "y": {"datum": 1, "type": "quantitative", "axis": null, "scale": {"domain": [0, 2], "range": [41, 0], "zero": false, "nice": false}}
      },
      "layer": [
        {"transform": [{"filter": "datum.item === 'left'"}], "mark": {"type": "point", "filled": true, "opacity": 1, "color": "#3f4049", "size": 3249, "shape": "M-.86,-.51H1V.51H-.86Q-1,.51 -1,.37V-.37Q-1,-.51 -.86,-.51Z"}},
        {"transform": [{"filter": "datum.item === 'right'"}], "mark": {"type": "point", "filled": true, "opacity": 1, "color": "#6b6c75", "size": 729, "shape": "M-1,-1.07H.7Q1,-1.07 1,-.77V.77Q1,1.07 .7,1.07H-1Z"}},
        {"transform": [{"filter": "datum.item === 'right'"}], "mark": {"type": "point", "filled": true, "opacity": 1, "color": "#f4f4f4", "size": 110, "shape": "triangle-down"}},
        {"transform": [{"filter": "datum.item === 'wide'"}], "mark": {"type": "point", "filled": true, "opacity": 1, "color": "#ececec", "size": 9025, "shape": "M-.92,-.305H.92Q1,-.305 1,-.22V.22Q1,.305 .92,.305H-.92Q-1,.305 -1,.22V-.22Q-1,-.305 -.92,-.305Z"}},
        {"transform": [{"filter": "datum.item === 'grid' || datum.item === 'pencil'"}], "mark": {"type": "point", "filled": true, "opacity": 1, "color": "#e0e0e0", "size": 900, "shape": "M-.75,-.97H.75Q1,-.97 1,-.72V.72Q1,.97 .75,.97H-.75Q-1,.97 -1,.72V-.72Q-1,-.97 -.75,-.97Z"}},
        {"transform": [{"filter": "datum.item === 'grid'"}], "mark": {"type": "point", "filled": false, "opacity": 1, "color": "#4a4a4a", "strokeWidth": 2, "size": 361, "shape": "M-1,-1H1V1H-1ZM0,-1V1M-1,0H1"}},
        {"transform": [{"filter": "datum.item === 'pencil'"}], "mark": {"type": "point", "filled": true, "opacity": 1, "color": "#3a3a3a", "size": 441, "shape": "M-1,1L-.8,.35L.35,-.8L.8,-.35L-.35,.8ZM.47,-.92L.67,-1.0Q.8,-1.05 .92,-.92Q1.05,-.8 1,-.67L.92,-.47Z"}},
        {"transform": [{"filter": "datum.item === 'label'"}], "mark": {"type": "text", "align": "left", "baseline": "middle", "fontSize": 11, "color": "#f0f0f0"}, "encoding": {"text": {"field": "text"}}},
        {"transform": [{"filter": "datum.item === 'wide'"}], "mark": {"type": "text", "align": "center", "baseline": "middle", "fontSize": 11, "color": "#333333"}, "encoding": {"text": {"field": "text"}}}
      ]
    },
    {
      "width": 915,
      "height": 220,
      "view": {"fill": "#080a18", "stroke": null},
      "encoding": {
        "x": {"field": "bar", "type": "quantitative", "title": null, "scale": {"domain": [-3.8, 327.7], "zero": false, "nice": false, "padding": 0}, "axis": {"values": [0, 60, 120, 181, 241, 301], "labels": false, "ticks": false, "grid": true, "gridColor": "#33343f", "domain": true, "domainColor": "#b0b0b8", "domainWidth": 1.5}},
        "y": {"field": "price", "type": "quantitative", "title": null, "scale": {"domain": [7362, 8039], "zero": false, "nice": false}, "axis": {"orient": "right", "values": [7400, 7600, 7800, 8000], "format": ",d", "labelBaseline": {"condition": {"test": "datum.value === 7400", "value": "bottom"}, "value": "middle"}, "ticks": false, "domain": false, "grid": true, "gridColor": "#2c2d3a", "gridWidth": 1.3, "labelPadding": 5, "labelFontSize": 12, "labelColor": "#dddddd"}}
      },
      "layer": [
        {
          "data": {"name": "candles"},
          "mark": {"type": "rule", "strokeWidth": 1, "opacity": 0.7},
          "encoding": {
            "y": {"field": "h", "type": "quantitative", "title": null, "scale": {"domain": [7362, 8039], "zero": false, "nice": false}, "axis": {"orient": "right", "values": [7400, 7600, 7800, 8000], "format": ",d", "labelBaseline": {"condition": {"test": "datum.value === 7400", "value": "bottom"}, "value": "middle"}, "ticks": false, "domain": false, "grid": true, "gridColor": "#2c2d3a", "gridWidth": 1.3, "labelPadding": 5, "labelFontSize": 12, "labelColor": "#dddddd"}},
            "y2": {"field": "l"},
            "color": {"condition": {"test": "datum.c >= datum.o", "value": "#e8452a"}, "value": "#4fd02a"}
          }
        },
        {
          "data": {"name": "candles"},
          "mark": {"type": "bar", "size": 2.2, "orient": "vertical"},
          "encoding": {
            "y": {"field": "o", "type": "quantitative", "title": null, "stack": null, "scale": {"domain": [7362, 8039], "zero": false, "nice": false}, "axis": {"orient": "right", "values": [7400, 7600, 7800, 8000], "format": ",d", "labelBaseline": {"condition": {"test": "datum.value === 7400", "value": "bottom"}, "value": "middle"}, "ticks": false, "domain": false, "grid": true, "gridColor": "#2c2d3a", "gridWidth": 1.3, "labelPadding": 5, "labelFontSize": 12, "labelColor": "#dddddd"}},
            "y2": {"field": "c"},
            "color": {"condition": {"test": "datum.c >= datum.o", "value": "#e8452a"}, "value": "#4fd02a"}
          }
        },
        {
          "data": {"name": "closeLine"},
          "mark": {"type": "line", "color": "#97803a", "strokeWidth": 1.5, "strokeDash": [6, 5]}
        },
        {
          "data": {"name": "ema"},
          "mark": {"type": "line", "strokeWidth": 1.3, "interpolate": "monotone"},
          "encoding": {
            "color": {"field": "line", "type": "nominal", "legend": null, "scale": {"domain": ["題", "短期", "中期", "長期"], "range": ["#e0e0e0", "#d6da98", "#d8a98c", "#8fc6a2"]}}
          }
        },
        {
          "data": {"name": "priceBox"},
          "mark": {"type": "rect", "color": "#000000", "opacity": 0.55},
          "encoding": {"x2": {"field": "bar2"}, "y2": {"field": "price2"}}
        },
        {
          "data": {"name": "highLabel"},
          "mark": {"type": "text", "baseline": "bottom", "align": "center", "dy": 4, "fontSize": 12, "color": "#777777"},
          "encoding": {"text": {"field": "text"}}
        },
        {
          "data": {"name": "priceLegend"},
          "mark": {"type": "text", "align": "left", "baseline": "middle", "fontSize": 12},
          "encoding": {
            "text": {"field": "text"},
            "color": {"field": "line", "type": "nominal", "legend": null, "scale": {"domain": ["題", "短期", "中期", "長期"], "range": ["#e0e0e0", "#d6da98", "#d8a98c", "#8fc6a2"]}}
          }
        },
        {
          "data": {"name": "tab"},
          "mark": {"type": "rect", "color": "#3d4a92", "cornerRadiusTopRight": 4, "cornerRadiusBottomRight": 4},
          "encoding": {"x2": {"field": "bar2"}, "y2": {"field": "price2"}}
        },
        {
          "data": {"name": "tabText"},
          "mark": {"type": "text", "angle": 90, "align": "center", "baseline": "middle", "fontSize": 12, "color": "#e8e8f0"},
          "encoding": {"text": {"field": "text"}}
        },
        {
          "data": {"name": "lowLabel"},
          "mark": {"type": "text", "align": "center", "baseline": "top", "dy": 1, "fontSize": 12, "color": "#d0d0d0"},
          "encoding": {"text": {"field": "text"}}
        },
        {
          "data": {"name": "tag"},
          "mark": {"type": "point", "clip": false, "filled": true, "opacity": 1, "color": "#e8c040", "size": 3249, "shape": "M-1,0L-.88,-.3H.92Q1,-.3 1,-.22V.22Q1,.3 .92,.3H-.88Z"}
        },
        {
          "data": {"name": "tag"},
          "mark": {"type": "text", "clip": false, "align": "center", "baseline": "middle", "fontSize": 13, "color": "#2a2a2a"},
          "encoding": {"text": {"field": "text"}}
        }
      ]
    },
    {
      "width": 915,
      "height": 74,
      "view": {"fill": "#080a18", "stroke": null},
      "encoding": {
        "x": {"field": "bar", "type": "quantitative", "title": null, "scale": {"domain": [-3.8, 327.7], "zero": false, "nice": false, "padding": 0}, "axis": {"values": [0, 60, 120, 181, 241, 301], "labels": false, "ticks": false, "grid": true, "gridColor": "#33343f", "domain": true, "domainColor": "#b0b0b8", "domainWidth": 1.5}},
        "y": {"field": "value", "type": "quantitative", "title": null, "scale": {"domain": [-44, 157], "zero": false, "nice": false}, "axis": {"orient": "right", "values": [0, 100], "format": "d", "labelBaseline": {"condition": {"test": "datum.value === 100", "value": "top"}, "value": "bottom"}, "ticks": false, "domain": false, "grid": false, "labelPadding": 5, "labelFontSize": 12, "labelColor": "#dddddd"}}
      },
      "layer": [
        {
          "data": {"name": "macdGrid"},
          "mark": {"type": "line", "color": "#2c2d3a", "strokeWidth": 1.3}
        },
        {
          "data": {"name": "hist"},
          "mark": {"type": "bar", "size": 2, "orient": "vertical"},
          "encoding": {
            "color": {"condition": {"test": "datum.value >= 0", "value": "#e0606a"}, "value": "#4a90d8"}
          }
        },
        {
          "data": {"name": "macd"},
          "mark": {"type": "line", "strokeWidth": 1.2, "interpolate": "monotone", "clip": true},
          "encoding": {
            "color": {"field": "line", "type": "nominal", "legend": null, "scale": {"domain": ["MACD", "シグナル"], "range": ["#45a868", "#c8a040"]}}
          }
        },
        {
          "data": {"name": "macdBox"},
          "mark": {"type": "rect", "color": "#000000", "opacity": 0.5},
          "encoding": {"x2": {"field": "bar2"}, "y2": {"field": "value2"}}
        },
        {
          "data": {"name": "macdLegend"},
          "mark": {"type": "text", "align": "left", "baseline": "middle", "fontSize": 12},
          "encoding": {
            "text": {"field": "text"},
            "color": {"field": "line", "type": "nominal", "legend": null, "scale": {"domain": ["MACD", "シグナル"], "range": ["#45a868", "#c8a040"]}}
          }
        }
      ]
    },
    {
      "width": 915,
      "height": 74,
      "view": {"fill": "#080a18", "stroke": null},
      "encoding": {
        "x": {"field": "bar", "type": "quantitative", "title": null, "scale": {"domain": [-3.8, 327.7], "zero": false, "nice": false, "padding": 0}, "axis": {"values": [0, 60, 120, 181, 241, 301], "labelExpr": "{'0':'09:00','60':'10:00','120':'11:00','181':'13:00','241':'14:00','301':'15:00'}[datum.value]", "labelFlush": false, "labelOverlap": false, "labelBound": false, "ticks": false, "grid": true, "gridColor": "#33343f", "domain": false, "labelPadding": 6, "labelFontSize": 12, "labelColor": "#dddddd"}},
        "y": {"field": "vol", "type": "quantitative", "title": null, "scale": {"domain": [0, 793000], "zero": false, "nice": false}, "axis": {"orient": "right", "values": [0, 250000, 500000, 750000], "format": ",d", "labelBaseline": {"condition": [{"test": "datum.value === 750000", "value": "top"}, {"test": "datum.value === 0", "value": "bottom"}], "value": "middle"}, "ticks": false, "domain": false, "grid": true, "gridColor": "#2c2d3a", "gridWidth": 1.3, "labelPadding": 5, "labelFontSize": 11.5, "labelColor": "#dddddd"}}
      },
      "layer": [
        {
          "data": {"name": "volume"},
          "mark": {"type": "bar", "size": 2, "color": "#e8e04a", "orient": "vertical"}
        },
        {
          "data": {"name": "volBox"},
          "mark": {"type": "rect", "color": "#000000", "opacity": 0.5},
          "encoding": {"x2": {"field": "bar2"}, "y2": {"field": "vol2"}}
        },
        {
          "data": {"name": "volLegend"},
          "mark": {"type": "text", "align": "left", "baseline": "middle", "fontSize": 12, "color": "#d8d840"},
          "encoding": {"text": {"field": "text"}}
        },
        {
          "data": {"name": "flip"},
          "mark": {"type": "point", "clip": false, "filled": true, "opacity": 1, "color": "#c8c8c8", "size": 900, "shape": "M-1,-.1H1V.9Q1,1 .9,1H-.9Q-1,1 -1,.9Z"}
        },
        {
          "data": {"name": "flip"},
          "mark": {"type": "point", "clip": false, "filled": true, "opacity": 1, "color": "#808080", "size": 900, "shape": "M.07,-1H.9Q1,-1 1,-.9V-.1H.07Z"}
        },
        {
          "data": {"name": "flip"},
          "mark": {"type": "point", "clip": false, "filled": false, "opacity": 1, "color": "#222222", "strokeWidth": 2, "size": 900, "shape": "M-.6,.05C-.5,-.5 -.1,-.72 .45,-.65M.2,-.85L.5,-.65L.2,-.42"}
        }
      ]
    }
  ],
  "config": {
    "font": "Roboto, 'Noto Sans CJK JP'",
    "axis": {"labelFont": "Roboto, 'Noto Sans CJK JP'"},
    "text": {"font": "Roboto, 'Noto Sans CJK JP'"},
    "concat": {"spacing": 0}
  }
}
